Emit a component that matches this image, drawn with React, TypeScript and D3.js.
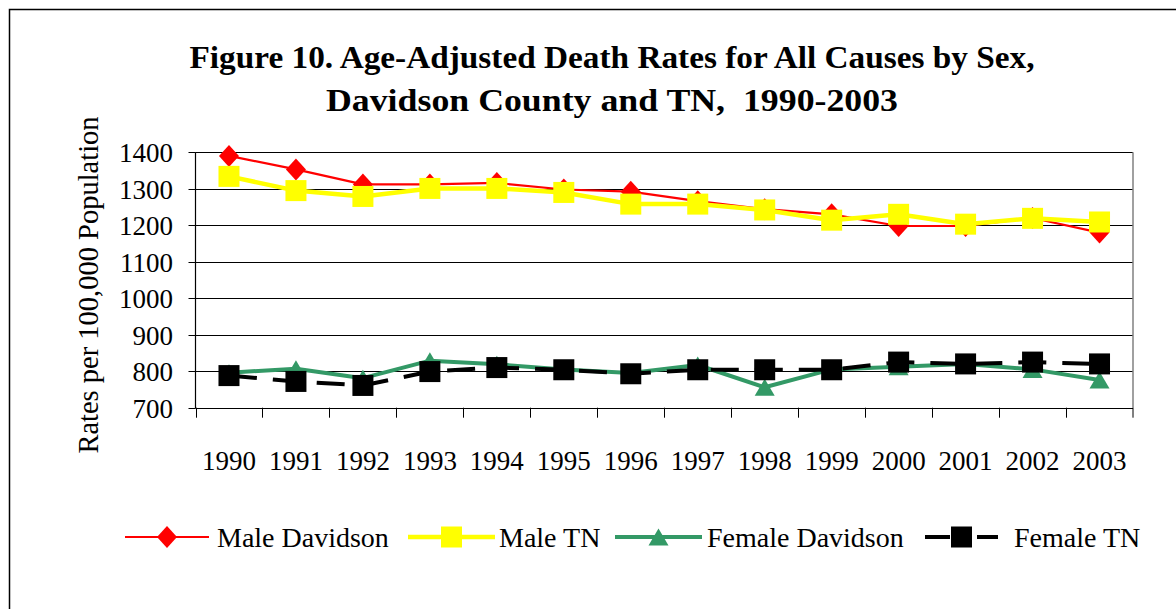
import { useEffect, useRef } from 'react';
import * as d3 from 'd3';

const years = ['1990', '1991', '1992', '1993', '1994', '1995', '1996', '1997', '1998', '1999', '2000', '2001', '2002', '2003'];
const maleDavidson = [1390, 1353, 1312, 1312, 1316, 1298, 1292, 1266, 1244, 1230, 1198, 1198, 1220, 1180];
const maleTN = [1334, 1295, 1279, 1301, 1301, 1290, 1258, 1258, 1242, 1214, 1230, 1203, 1219, 1209];
const femaleDavidson = [796, 807, 781, 829, 819, 805, 795, 817, 756, 805, 812, 820, 805, 776];
const femaleTN = [788, 772, 761, 799, 810, 804, 793, 804, 804, 804, 825, 820, 825, 820];
const yTicks = [700, 800, 900, 1000, 1100, 1200, 1300, 1400];

const FONT = "'Liberation Serif', 'Times New Roman', serif";

type Series = {
  name: string;
  values: number[];
  color: string;
  width: number;
  dash?: string;
  marker: 'diamond' | 'square' | 'triangle';
  size: number;
};

export default function App() {
  const svgRef = useRef<SVGSVGElement>(null);

  useEffect(() => {
    const svg = d3.select(svgRef.current);
    svg.selectAll('*').remove();

    const W = 1176, H = 609;
    const left = 195.5, right = 1133, top = 152.3, bottom = 407.7;

    svg.attr('width', W).attr('height', H).attr('viewBox', `0 0 ${W} ${H}`);
    svg.append('rect').attr('width', W).attr('height', H).attr('fill', '#fff');

    // outer chart border (runs off the page to the right and bottom)
    svg.append('rect').attr('x', 9.5).attr('y', 9.5).attr('width', 1300).attr('height', 800)
      .attr('fill', 'none').attr('stroke', '#000').attr('stroke-width', 1.5);

    const x = d3.scaleBand<string>().domain(years).range([left, right]).padding(0);
    const cx = (i: number) => (x(years[i]) as number) + x.bandwidth() / 2;
    const y = d3.scaleLinear().domain([700, 1400]).range([bottom, top]);

    // gridlines
    yTicks.filter(t => t > 700).forEach(t => {
      svg.append('line').attr('x1', left).attr('x2', right)
        .attr('y1', Math.round(y(t)) + 0.5).attr('y2', Math.round(y(t)) + 0.5)
        .attr('stroke', '#000').attr('stroke-width', 1);
    });
    // right border of plot area
    svg.append('line').attr('x1', right).attr('x2', right).attr('y1', top).attr('y2', bottom)
      .attr('stroke', '#808080').attr('stroke-width', 1.5);

    // axes
    svg.append('line').attr('x1', left).attr('x2', left).attr('y1', top).attr('y2', bottom + 0.5)
      .attr('stroke', '#000').attr('stroke-width', 1.2);
    svg.append('line').attr('x1', left).attr('x2', right).attr('y1', Math.round(bottom) + 0.5).attr('y2', Math.round(bottom) + 0.5)
      .attr('stroke', '#000').attr('stroke-width', 1.2);

    yTicks.forEach(t => {
      const yy = Math.round(y(t)) + 0.5;
      svg.append('line').attr('x1', left - 7).attr('x2', left).attr('y1', yy).attr('y2', yy)
        .attr('stroke', '#000');
      svg.append('text').attr('x', 173).attr('y', yy).attr('dy', '0.35em')
        .attr('text-anchor', 'end').attr('font-family', FONT).attr('font-size', 27).attr('fill', '#000')
        .text(t);
    });

    years.forEach((yr, i) => {
      const bx = Math.round(x(yr) as number) + 0.5;
      svg.append('line').attr('x1', bx).attr('x2', bx).attr('y1', bottom).attr('y2', bottom + 10)
        .attr('stroke', '#000');
      svg.append('text').attr('x', cx(i)).attr('y', 470)
        .attr('text-anchor', 'middle').attr('font-family', FONT).attr('font-size', 27).attr('fill', '#000')
        .text(yr);
    });
    svg.append('line').attr('x1', right).attr('x2', right).attr('y1', bottom).attr('y2', bottom + 10)
      .attr('stroke', '#000');

    const series: Series[] = [
      { name: 'Male Davidson', values: maleDavidson, color: '#ff0000', width: 2.2, marker: 'diamond', size: 20 },
      { name: 'Male TN', values: maleTN, color: '#ffff00', width: 4.5, marker: 'square', size: 21 },
      { name: 'Female Davidson', values: femaleDavidson, color: '#339966', width: 4, marker: 'triangle', size: 20 },
      { name: 'Female TN', values: femaleTN, color: '#000000', width: 4, dash: '28,16', marker: 'square', size: 21 },
    ];

    const drawMarker = (g: d3.Selection<SVGGElement, unknown, null, undefined>, s: Series, px: number, py: number) => {
      const h = s.size / 2;
      if (s.marker === 'diamond') {
        const v = h * 1.1;
        g.append('path').attr('d', `M${px},${py - v}L${px + h},${py}L${px},${py + v}L${px - h},${py}Z`).attr('fill', s.color);
      } else if (s.marker === 'square') {
        g.append('rect').attr('x', px - h).attr('y', py - h).attr('width', s.size).attr('height', s.size).attr('fill', s.color);
      } else {
        const th = s.size * 0.85;
        g.append('path').attr('d', `M${px},${py - th / 2}L${px + h},${py + th / 2}L${px - h},${py + th / 2}Z`).attr('fill', s.color);
      }
    };

    const line = d3.line<number>().x((_, i) => cx(i)).y(v => y(v));

    series.forEach(s => {
      const g = svg.append('g');
      g.append('path').attr('d', line(s.values)).attr('fill', 'none')
        .attr('stroke', s.color).attr('stroke-width', s.width)
        .attr('stroke-dasharray', s.dash ?? null).attr('stroke-linejoin', 'round');
      s.values.forEach((v, i) => drawMarker(g as any, s, cx(i), y(v)));
    });

    // title
    const title = ['Figure 10. Age-Adjusted Death Rates for All Causes by Sex,', 'Davidson County and TN,  1990-2003'];
    const titleLen = [845, 572];
    title.forEach((t, i) => {
      svg.append('text').attr('x', 612).attr('y', 68 + i * 43)
        .attr('text-anchor', 'middle').attr('font-family', FONT).attr('font-weight', 'bold')
        .attr('font-size', 31).attr('fill', '#000').style('white-space', 'pre')
        .attr('textLength', titleLen[i]).attr('lengthAdjust', 'spacingAndGlyphs')
        .text(t);
    });

    // y axis title
    svg.append('text').attr('transform', 'translate(98,285) rotate(-90)')
      .attr('text-anchor', 'middle').attr('font-family', FONT).attr('font-size', 28.5).attr('fill', '#000')
      .text('Rates per 100,000 Population');

    // legend
    const legendX = [125, 408, 615, 925];
    const legendLen = [84, 87, 87, 73];
    const legendText = [217, 499, 707, 1014];
    const ly = 537;
    series.forEach((s, i) => {
      const g = svg.append('g');
      g.append('line').attr('x1', legendX[i]).attr('x2', legendX[i] + legendLen[i]).attr('y1', ly).attr('y2', ly)
        .attr('stroke', s.color).attr('stroke-width', s.width)
        .attr('stroke-dasharray', s.dash ? '25,27' : null);
      drawMarker(g as any, s, legendX[i] + legendLen[i] / 2, ly);
      g.append('text').attr('x', legendText[i]).attr('y', ly).attr('dy', '0.35em')
        .attr('font-family', FONT).attr('font-size', 28).attr('fill', '#000')
        .text(s.name);
    });
  }, []);

  return (
    <svg ref={svgRef} style={{ position: 'absolute', left: 0, top: 0, display: 'block' }} />
  );
}
